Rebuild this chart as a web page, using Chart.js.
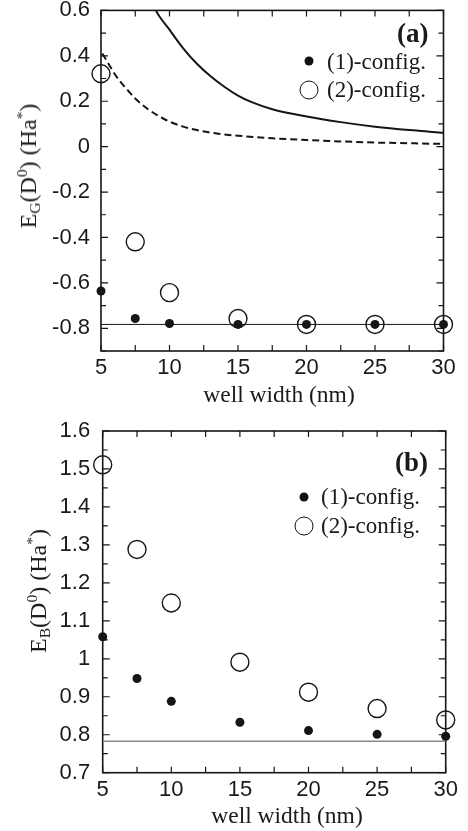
<!DOCTYPE html>
<html>
<head>
<meta charset="utf-8">
<script src="https://cdn.jsdelivr.net/npm/chart.js@4.4.1/dist/chart.umd.min.js"></script>
<style>
html,body{margin:0;padding:0;background:#fff;}
body{width:468px;height:831px;position:relative;overflow:hidden;}
.panel{position:absolute;left:0;width:468px;}
.panel canvas{position:absolute;left:0;top:0;}
.t{position:absolute;font-family:"Liberation Serif","Times New Roman",serif;color:#1a1a1a;white-space:nowrap;line-height:1;}
.leg{font-size:23px;transform:translate(0,-50%);}
.tag{font-size:27px;font-weight:bold;transform:translate(0,-50%);}
.xt{font-size:23.5px;transform:translate(-50%,-50%);}
.yt{font-size:24px;transform:translate(-50%,-50%) rotate(-90deg);}
.sb{font-size:65%;vertical-align:-0.28em;line-height:0;}
.sp{font-size:65%;vertical-align:0.55em;line-height:0;}
.dot{position:absolute;width:9px;height:9px;border-radius:50%;background:#111;transform:translate(-50%,-50%);}
.ring{position:absolute;width:17px;height:17px;border-radius:50%;border:1.5px solid #111;transform:translate(-50%,-50%);}
</style>
</head>
<body>
<div class="panel" style="top:0;height:420px;"><canvas id="ca" width="468" height="420"></canvas></div>
<div class="panel" style="top:420px;height:411px;"><canvas id="cb" width="468" height="411"></canvas></div>

<!-- panel (a) texts -->
<div class="t tag" style="left:397px;top:33px;">(a)</div>
<div class="dot" style="left:309px;top:61px;"></div>
<div class="t leg" style="left:327px;top:61px;">(1)-config.</div>
<div class="ring" style="left:309px;top:90px;"></div>
<div class="t leg" style="left:327px;top:89px;">(2)-config.</div>
<div class="t xt" style="left:279px;top:395px;">well width (nm)</div>
<div class="t yt" style="left:28px;top:166px;">E<span class="sb">G</span>(D<span class="sp">0</span>) (Ha<span class="sp">*</span>)</div>

<!-- panel (b) texts -->
<div class="t tag" style="left:395px;top:462px;">(b)</div>
<div class="dot" style="left:304px;top:497px;"></div>
<div class="t leg" style="left:321px;top:496px;">(1)-config.</div>
<div class="ring" style="left:304px;top:526px;"></div>
<div class="t leg" style="left:321px;top:525px;">(2)-config.</div>
<div class="t xt" style="left:287px;top:816px;">well width (nm)</div>
<div class="t yt" style="left:38px;top:591px;">E<span class="sb">B</span>(D<span class="sp">0</span>) (Ha<span class="sp">*</span>)</div>

<script>
// ---------------- data ----------------
const wellWidths = [5, 7.5, 10, 15, 20, 25, 30];

// panel (a): E_G(D0)
const egConfig1 = [-0.636, -0.757, -0.779, -0.783, -0.783, -0.783, -0.783];
const egConfig2 = [0.321, -0.419, -0.643, -0.757, -0.783, -0.783, -0.783];
const egLevel = -0.783;
const solidCurveX = [8.8, 9, 10, 11, 12, 13, 14, 15, 16, 17.5, 20, 22.5, 25, 27.5, 30];
const solidCurveY = [0.63, 0.6, 0.515, 0.433, 0.365, 0.31, 0.264, 0.225, 0.196, 0.165, 0.133, 0.108, 0.088, 0.073, 0.061];
const dashCurveX = [5.1, 5.5, 6, 6.5, 7, 7.5, 8, 8.5, 9, 9.5, 10, 11, 12, 13, 14, 15, 17.5, 20, 22.5, 25, 27.5, 30];
const dashCurveY = [0.41, 0.37, 0.32, 0.28, 0.245, 0.212, 0.185, 0.162, 0.142, 0.125, 0.11, 0.088, 0.073, 0.062, 0.054, 0.048, 0.037, 0.029, 0.023, 0.018, 0.015, 0.012];

// panel (b): E_B(D0)
const ebConfig1 = [1.058, 0.948, 0.888, 0.833, 0.811, 0.801, 0.796];
const ebConfig2 = [1.511, 1.288, 1.147, 0.991, 0.912, 0.869, 0.839];
const ebLevel = 0.783;

// tick labels
const xTickLabels = ['5', '10', '15', '20', '25', '30'];
const yTickLabelsA = ['-0.8', '-0.6', '-0.4', '-0.2', '0', '0.2', '0.4', '0.6'];
const yTickLabelsB = ['0.7', '0.8', '0.9', '1', '1.1', '1.2', '1.3', '1.4', '1.5', '1.6'];

// ---------------- helpers ----------------
const fmt = v => String(Math.round(v * 1000) / 1000);
const pts = (xs, ys) => xs.map((x, i) => ({x, y: ys[i]}));
const INK = '#151515';

const framePlugin = {
  id: 'frame',
  beforeDatasetsDraw(chart, args, o) {
    const {ctx, chartArea: a, scales: {x, y}} = chart;
    ctx.save();
    ctx.strokeStyle = INK;
    ctx.lineWidth = 1.2;
    ctx.beginPath();
    for (let i = 0; ; i++) {
      const v = o.xMin + i * o.xStep;
      if (v > o.xMax + 1e-9) break;
      const px = x.getPixelForValue(v);
      ctx.moveTo(px, a.bottom); ctx.lineTo(px, a.bottom - o.len);
      ctx.moveTo(px, a.top); ctx.lineTo(px, a.top + o.len);
    }
    for (let i = 0; ; i++) {
      const v = o.yMin + i * o.yStep;
      if (v > o.yMax + 1e-9) break;
      const py = y.getPixelForValue(v);
      const major = o.yLabels.includes(fmt(v));
      const L = major ? o.len + 1 : o.len - 1;
      ctx.moveTo(a.left, py); ctx.lineTo(a.left + L, py);
      ctx.moveTo(a.right, py); ctx.lineTo(a.right - L, py);
    }
    ctx.stroke();
    ctx.lineWidth = 1.6;
    ctx.strokeRect(a.left, a.top, a.right - a.left, a.bottom - a.top);
    ctx.restore();
  }
};

function makeChart(id, p) {
  const datasets = [
    {data: pts(wellWidths, p.c1), showLine: false, pointRadius: 4.5, pointHoverRadius: 4.5,
     pointBackgroundColor: INK, pointBorderColor: INK, pointBorderWidth: 0, clip: false, order: 1},
    {data: pts(wellWidths, p.c2), showLine: false, pointRadius: 9, pointHoverRadius: 9,
     pointBackgroundColor: 'rgba(0,0,0,0)', pointBorderColor: INK, pointBorderWidth: 1.4, clip: false, order: 2},
    {data: pts([wellWidths[0], wellWidths[wellWidths.length - 1]], [p.level, p.level]), showLine: true,
     pointRadius: 0, borderColor: p.levelColor, borderWidth: p.levelWidth, order: 3}
  ];
  if (p.curves) {
    datasets.push({data: pts(solidCurveX, solidCurveY), showLine: true, pointRadius: 0, borderColor: INK,
      borderWidth: 2, cubicInterpolationMode: 'monotone', order: 4});
    datasets.push({data: pts(dashCurveX, dashCurveY), showLine: true, pointRadius: 0, borderColor: INK,
      borderWidth: 2, borderDash: [7, 4], cubicInterpolationMode: 'monotone', order: 5});
  }
  return new Chart(document.getElementById(id), {
    type: 'scatter',
    data: {datasets},
    options: {
      responsive: false,
      animation: false,
      events: [],
      layout: {padding: {left: 0, right: p.padRight, top: p.padTop, bottom: 0}},
      plugins: {legend: {display: false}, tooltip: {enabled: false},
        frame: {xMin: 5, xMax: 30, xStep: 2.5, yMin: p.yMin, yMax: p.yMax, yStep: p.yMinor, len: 6, yLabels: p.yLabels}},
      scales: {
        x: {
          type: 'linear', min: 5, max: 30,
          grid: {display: false, drawTicks: false},
          border: {display: false},
          ticks: {autoSkip: false, maxRotation: 0, padding: p.xPad, color: '#1a1a1a',
            font: {family: 'Liberation Sans', size: 22},
            callback: v => fmt(v)},
          afterBuildTicks: s => { s.ticks = xTickLabels.map(t => ({value: Number(t)})); },
          afterFit: s => { s.height = p.xHeight; s.paddingLeft = 0; s.paddingRight = 0; }
        },
        y: {
          type: 'linear', min: p.yMin, max: p.yMax,
          grid: {display: false, drawTicks: false},
          border: {display: false},
          ticks: {autoSkip: false, padding: p.yPad, color: '#1a1a1a',
            font: {family: 'Liberation Sans', size: 22},
            callback: v => fmt(v)},
          afterBuildTicks: s => { s.ticks = p.yLabels.map(t => ({value: Number(t)})); },
          afterFit: s => { s.width = p.yWidth; s.paddingTop = 0; s.paddingBottom = 0; }
        }
      }
    },
    plugins: [framePlugin]
  });
}

makeChart('ca', {
  c1: egConfig1, c2: egConfig2, level: egLevel, levelColor: INK, levelWidth: 1, curves: true,
  yMin: -0.9, yMax: 0.6, yMinor: 0.1, yLabels: yTickLabelsA,
  padTop: 9, padRight: 24.5, yWidth: 101, xHeight: 69, xPad: 4, yPad: 11
});
makeChart('cb', {
  c1: ebConfig1, c2: ebConfig2, level: ebLevel, levelColor: '#8a8a8a', levelWidth: 1.6, curves: false,
  yMin: 0.7, yMax: 1.6, yMinor: 0.05, yLabels: yTickLabelsB,
  padTop: 11, padRight: 22.3, yWidth: 102.7, xHeight: 58.3, xPad: 4, yPad: 12.5
});
</script>
</body>
</html>
